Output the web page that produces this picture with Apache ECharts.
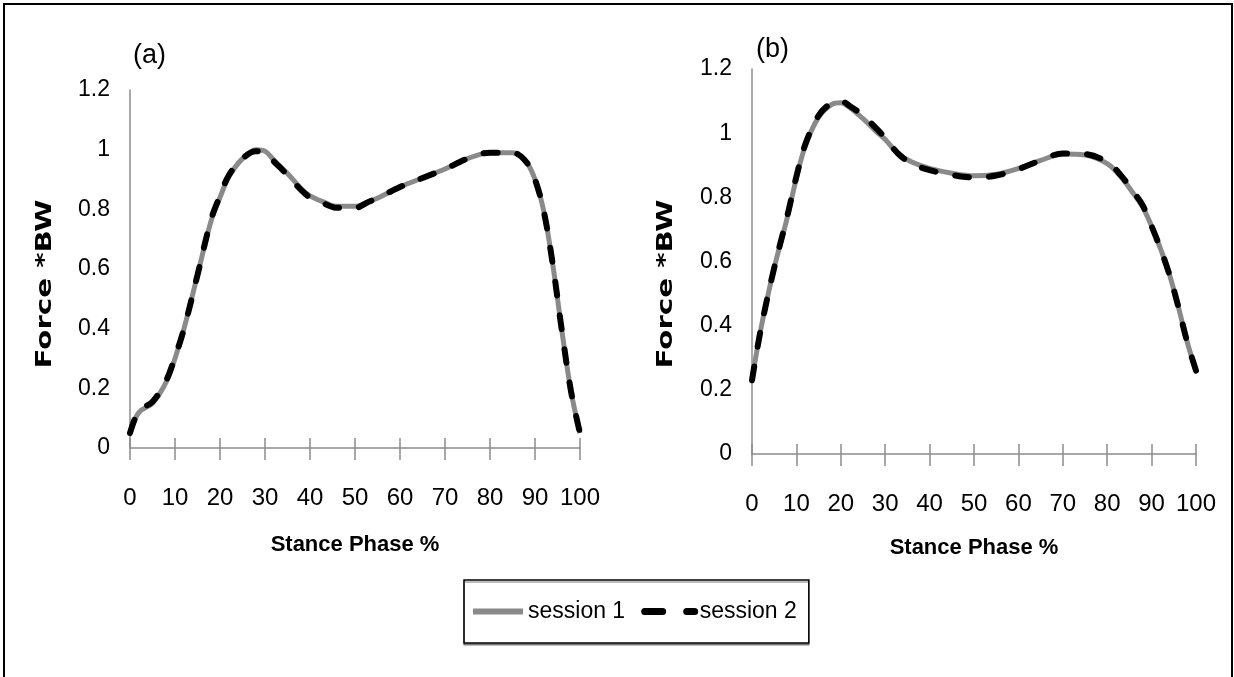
<!DOCTYPE html>
<html>
<head>
<meta charset="utf-8">
<script src="https://cdn.jsdelivr.net/npm/echarts@6/dist/echarts.min.js"></script>
<style>
html,body{margin:0;padding:0;background:#fff;}
#chart{width:1234px;height:677px;}
</style>
</head>
<body>
<div id="chart"></div>
<script>
// ---- data ----
const xTicks = [0,10,20,30,40,50,60,70,80,90,100];
const yTicks = [0,0.2,0.4,0.6,0.8,1,1.2];
const seriesNames = ['session 1','session 2'];

const stanceA = [0,2,5,8,10,12,15,18,20,22,25,28,30,32,35,38,40,43,46,50,53,56,60,65,70,75,80,85,88,90,92,94,96,98,100];
const session1A = [0.05,0.12,0.15,0.22,0.30,0.40,0.58,0.76,0.84,0.91,0.97,1.00,0.995,0.965,0.92,0.87,0.845,0.825,0.81,0.81,0.825,0.845,0.875,0.905,0.935,0.97,0.99,0.99,0.96,0.90,0.79,0.61,0.39,0.19,0.05];
const session2A = [0.05,0.125,0.155,0.225,0.305,0.40,0.58,0.765,0.845,0.915,0.97,0.995,0.99,0.96,0.915,0.865,0.84,0.82,0.805,0.805,0.825,0.845,0.875,0.905,0.935,0.97,0.99,0.99,0.96,0.90,0.79,0.61,0.39,0.19,0.05];

const stanceB = [0,2,5,8,10,12,15,18,20,22,25,28,30,33,36,40,45,50,55,60,65,70,75,80,83,86,88,90,92,94,96,98,100];
const session1B = [0.23,0.39,0.58,0.74,0.86,0.96,1.05,1.09,1.095,1.08,1.045,1.005,0.98,0.935,0.91,0.89,0.875,0.867,0.872,0.89,0.915,0.935,0.932,0.905,0.865,0.81,0.77,0.71,0.64,0.56,0.46,0.35,0.26];
const session2B = [0.23,0.39,0.58,0.745,0.865,0.965,1.055,1.095,1.1,1.085,1.055,1.015,0.985,0.935,0.905,0.885,0.87,0.862,0.868,0.888,0.915,0.937,0.935,0.91,0.87,0.815,0.775,0.71,0.64,0.56,0.46,0.35,0.26];

// ---- styling ----
const FONT = '"Liberation Sans Narrow","Liberation Sans",Arial,sans-serif';
const AXIS_GRAY = '#8c8c8c';
const S1_COLOR = '#8a8a8a';
const S2_COLOR = '#000000';

function pairs(xs, ys){ return xs.map((x,i)=>[x, ys[i]]); }

const grids = [
  {left:130, top:90, width:450, height:358},
  {left:752, top:69, width:444, height:385}
];

function mainX(gi){
  return {
    type:'value', gridIndex:gi, min:0, max:100, interval:10,
    name:'Stance Phase %', nameLocation:'middle', nameGap:gi===0?86:83,
    nameTextStyle:{fontFamily:FONT, fontWeight:'bold', fontSize:22, color:'#000'},
    axisLine:{show:true, onZero:false, lineStyle:{color:AXIS_GRAY, width:1.5}},
    axisTick:{show:true, inside:false, length:12, lineStyle:{color:AXIS_GRAY, width:1.5}},
    axisLabel:{fontFamily:FONT, fontSize:24, color:'#000', margin:38},
    splitLine:{show:false}
  };
}
function upTickX(gi){
  return {
    type:'value', gridIndex:gi, min:0, max:100, interval:10, position:'top',
    offset:-grids[gi].height,
    axisLine:{show:false},
    axisTick:{show:true, inside:false, length:10, lineStyle:{color:AXIS_GRAY, width:1.5}},
    axisLabel:{show:false},
    splitLine:{show:false}
  };
}
function yAx(gi){
  return {
    type:'value', gridIndex:gi, min:0, max:1.2, interval:0.2,
    axisLine:{show:true, lineStyle:{color:AXIS_GRAY, width:1.5}},
    axisTick:{show:false},
    axisLabel:{fontFamily:FONT, fontSize:23, color:'#000', margin:20,
      formatter:v=>String(Math.round(v*10)/10)},
    splitLine:{show:false}
  };
}
function s1(gi, xs, ys){
  return {name:seriesNames[0], type:'line', xAxisIndex:gi*2, yAxisIndex:gi, data:pairs(xs,ys),
    smooth:0.35, symbol:'none', z:2,
    lineStyle:{color:S1_COLOR, width:5}, itemStyle:{color:S1_COLOR}};
}
function s2(gi, xs, ys){
  return {name:seriesNames[1], type:'line', xAxisIndex:gi*2, yAxisIndex:gi, data:pairs(xs,ys),
    smooth:0.35, symbol:'none', z:3,
    lineStyle:{color:S2_COLOR, width:6, type:[14,20], cap:'round'}, itemStyle:{color:S2_COLOR}};
}

const chart = echarts.init(document.getElementById('chart'), null, {renderer:'canvas'});
chart.setOption({
  animation:false,
  backgroundColor:'#fff',
  grid: grids.map(g=>Object.assign({containLabel:false}, g)),
  xAxis:[mainX(0), upTickX(0), mainX(1), upTickX(1)],
  yAxis:[yAx(0), yAx(1)],
  title:[
    {text:'(a)', left:133, top:42, padding:0, textStyle:{fontFamily:FONT, fontWeight:'normal', fontSize:27, color:'#000'}},
    {text:'(b)', left:756, top:36, padding:0, textStyle:{fontFamily:FONT, fontWeight:'normal', fontSize:27, color:'#000'}}
  ],
  legend:{
    left:464, top:580, orient:'horizontal',
    padding:[20,12,20,6], itemGap:16, itemWidth:50, itemHeight:14,
    backgroundColor:'#fff', borderColor:'#000', borderWidth:1.5,
    shadowColor:'rgba(0,0,0,0.35)', shadowOffsetY:2, shadowBlur:0,
    textStyle:{fontFamily:FONT, fontSize:23, color:'#000'},
    data:[
      {name:seriesNames[0], itemStyle:{opacity:0}, lineStyle:{color:S1_COLOR, width:6}},
      {name:seriesNames[1], itemStyle:{opacity:0}, lineStyle:{color:S2_COLOR, width:7, type:[18,24], cap:'round'}}
    ]
  },
  graphic:[
    {type:'rect', shape:{x:4, y:4, width:1228, height:720}, style:{fill:'none', stroke:'#000', lineWidth:2}, z:-1, silent:true},
    {type:'text', x:45, y:284, rotation:Math.PI/2, scaleX:1.33, style:{text:'Force *BW', font:'bold 22px "DejaVu Sans"', fill:'#000', align:'center', verticalAlign:'middle'}},
    {type:'text', x:666, y:284, rotation:Math.PI/2, scaleX:1.33, style:{text:'Force *BW', font:'bold 22px "DejaVu Sans"', fill:'#000', align:'center', verticalAlign:'middle'}}
  ],
  series:[
    s1(0, stanceA, session1A), s2(0, stanceA, session2A),
    s1(1, stanceB, session1B), s2(1, stanceB, session2B)
  ]
});
</script>
</body>
</html>
